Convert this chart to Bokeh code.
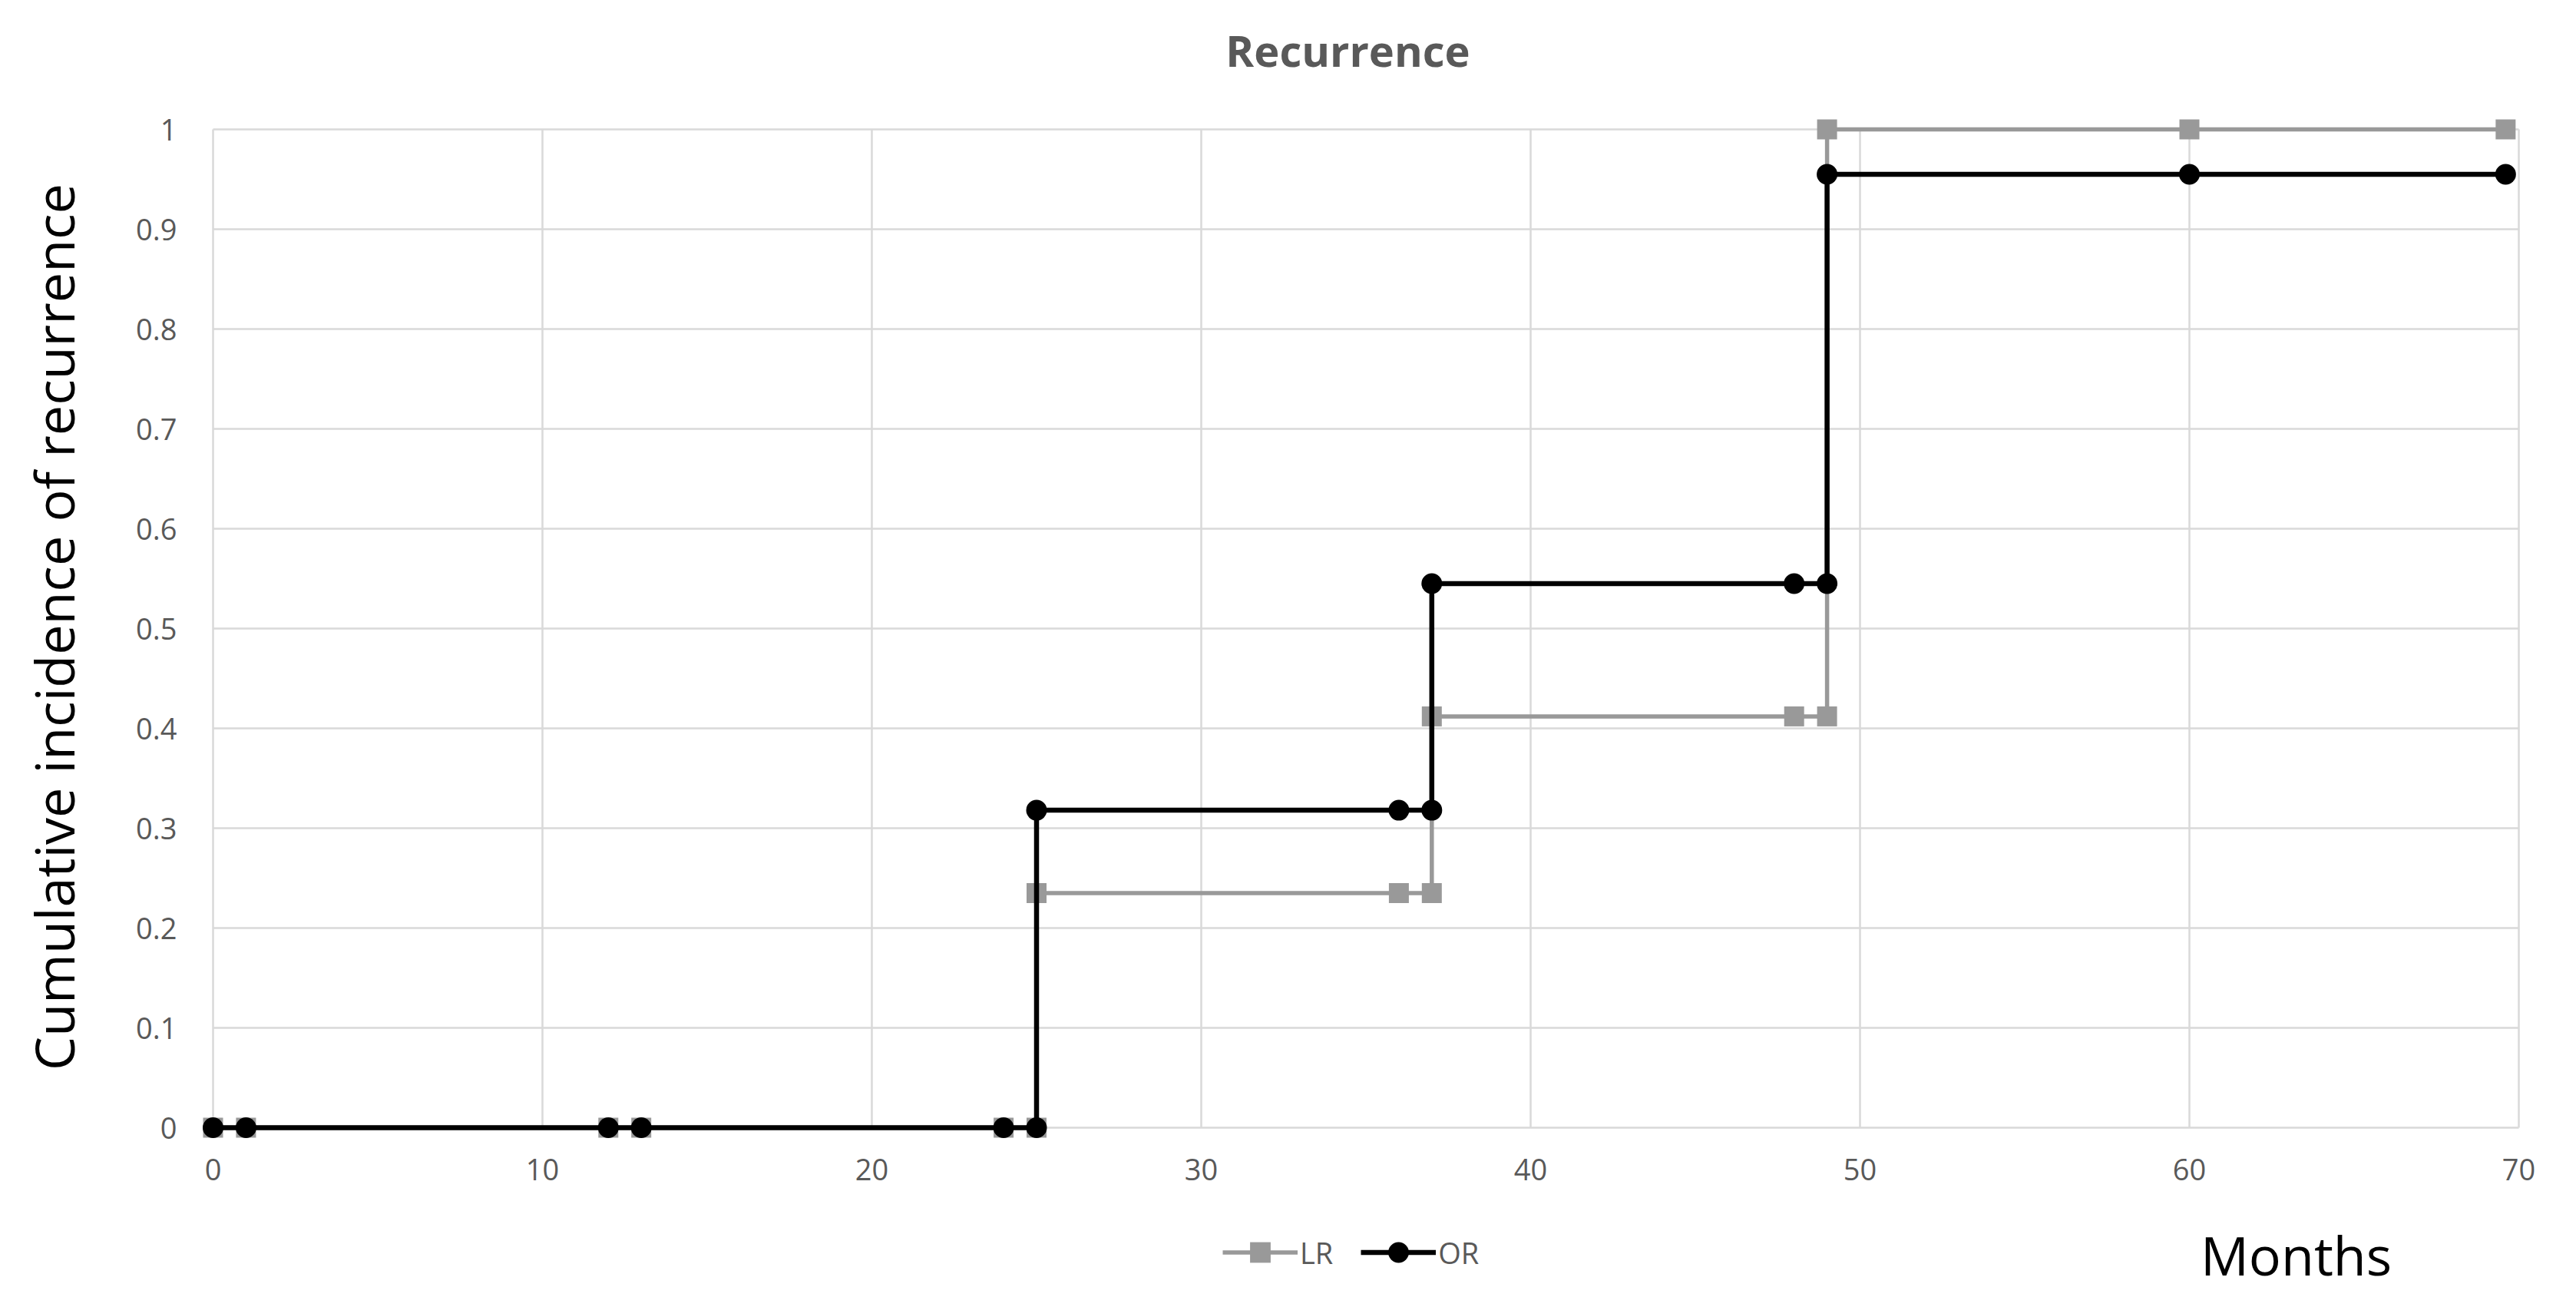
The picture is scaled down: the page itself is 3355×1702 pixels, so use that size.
import math
from bokeh.plotting import figure
from bokeh.models import Range1d, Label, Legend, LegendItem, CustomJSTickFormatter, FixedTicker
from bokeh.embed import file_html
from bokeh.resources import INLINE

# ---- data ----
months = [0, 1, 12, 13, 24, 25, 25, 36, 37, 37, 48, 49, 49, 60, 69.6]
lr_values = [0, 0, 0, 0, 0, 0, 0.235, 0.235, 0.235, 0.412, 0.412, 0.412, 1, 1, 1]
or_values = [0, 0, 0, 0, 0, 0, 0.318, 0.318, 0.318, 0.545, 0.545, 0.545, 0.955, 0.955, 0.955]
series_names = ["LR", "OR"]
x_ticks = [0, 10, 20, 30, 40, 50, 60, 70]
y_ticks = [0, 0.1, 0.2, 0.3, 0.4, 0.5, 0.6, 0.7, 0.8, 0.9, 1]
title_text = "Recurrence"
x_title = "Months"
y_title = "Cumulative incidence of recurrence"

FONT = "Open Sans"
TICK_COLOR = "#595959"
GRID_COLOR = "#d9d9d9"
LR_COLOR = "#999999"
OR_COLOR = "#000000"

# ---- layout (pixels) ----
W, H = 3339, 1686
PLOT_L, PLOT_R = 277, 3280      # screen x of first / last x tick
PLOT_T, PLOT_B = 168, 1468      # screen y of last / first y tick
x0, x1 = x_ticks[0], x_ticks[-1]
y0, y1 = y_ticks[0], y_ticks[-1]
kx = (PLOT_R - PLOT_L) / (x1 - x0)
ky = (PLOT_B - PLOT_T) / (y1 - y0)
x_range = Range1d(x0 - PLOT_L / kx, x1 + (W - PLOT_R) / kx)
y_range = Range1d(y0 - (H - PLOT_B) / ky, y1 + PLOT_T / ky)

p = figure(width=W, height=H, x_range=x_range, y_range=y_range,
           output_backend="svg", toolbar_location=None, title=None,
           min_border=0, min_border_left=0, min_border_right=0,
           min_border_top=0, min_border_bottom=0)
p.outline_line_color = None
p.background_fill_color = "white"
p.border_fill_color = "white"
p.xgrid.visible = False
p.ygrid.visible = False

for ax in (p.xaxis[0], p.yaxis[0]):
    ax.fixed_location = 0
    ax.axis_line_color = None
    ax.major_tick_line_color = None
    ax.minor_tick_line_color = None
    ax.major_label_text_font = FONT
    ax.major_label_text_font_size = "38px"
    ax.major_label_text_color = TICK_COLOR

p.xaxis.ticker = FixedTicker(ticks=x_ticks)
p.yaxis.ticker = FixedTicker(ticks=y_ticks)
p.xaxis.major_label_standoff = 34
p.yaxis.major_label_standoff = 41
p.yaxis.formatter = CustomJSTickFormatter(code="return (Math.round(tick*10)/10).toString();")

# gridlines drawn from the tick lists, spanning only the data area
p.segment(x0=x_ticks, y0=[y0] * len(x_ticks), x1=x_ticks, y1=[y1] * len(x_ticks),
          line_color=GRID_COLOR, line_width=2.5)
p.segment(x0=[x0] * len(y_ticks), y0=y_ticks, x1=[x1] * len(y_ticks), y1=y_ticks,
          line_color=GRID_COLOR, line_width=2.5)

lr_line = p.line(months, lr_values, line_color=LR_COLOR, line_width=5.5)
lr_pts = p.scatter(months, lr_values, marker="square", size=26, fill_color=LR_COLOR, line_color=None)
or_line = p.line(months, or_values, line_color=OR_COLOR, line_width=6.5)
or_pts = p.scatter(months, or_values, marker="circle", size=27, fill_color=OR_COLOR, line_color=None)

legend = Legend(items=[LegendItem(label=series_names[0], renderers=[lr_line, lr_pts]),
                       LegendItem(label=series_names[1], renderers=[or_line, or_pts])],
                location=(1592, 22), orientation="horizontal", padding=0, margin=0,
                spacing=36, glyph_width=98, glyph_height=67, label_standoff=3,
                label_text_font=FONT, label_text_font_size="38px", label_text_color=TICK_COLOR,
                background_fill_alpha=0, border_line_color=None)
p.add_layout(legend)

p.add_layout(Label(x=1755, y=1622, x_units="screen", y_units="screen", text=title_text,
                   text_font=FONT, text_font_style="bold", text_font_size="56px",
                   text_color=TICK_COLOR, text_align="center", text_baseline="alphabetic"))
p.add_layout(Label(x=69, y=870, x_units="screen", y_units="screen", text=y_title,
                   angle=math.pi / 2, text_font=FONT, text_font_size="70px",
                   text_color="black", text_align="center", text_baseline="alphabetic"))
p.add_layout(Label(x=2990, y=53, x_units="screen", y_units="screen", text=x_title,
                   text_font=FONT, text_font_size="70px",
                   text_color="black", text_align="center", text_baseline="alphabetic"))

open("out.html", "w").write(file_html(p, INLINE))
